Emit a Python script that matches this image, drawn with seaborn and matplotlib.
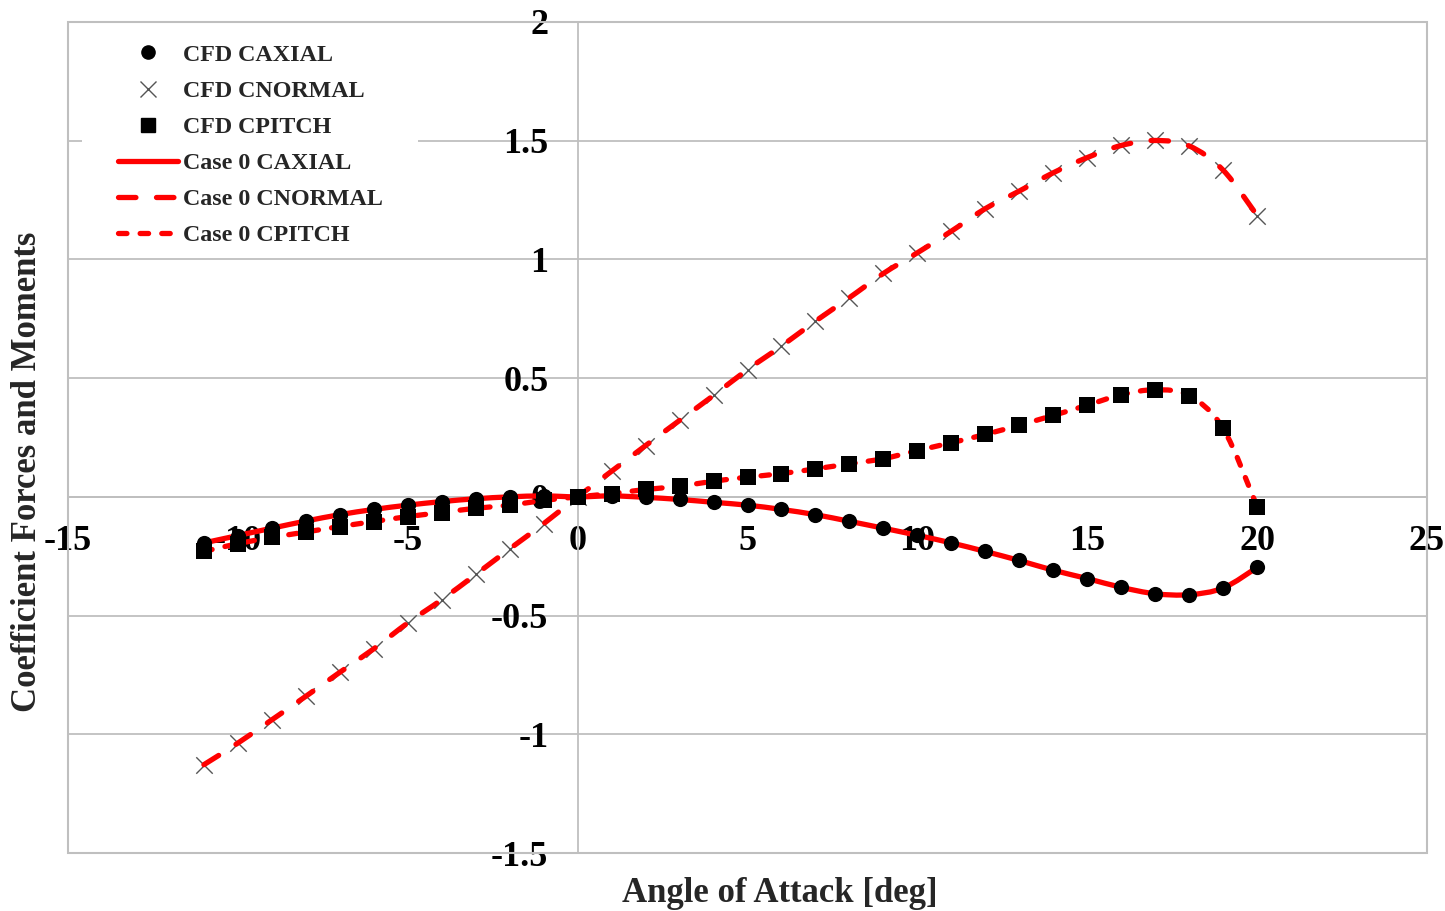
import numpy as np
import pandas as pd
import matplotlib
matplotlib.use("Agg")
import matplotlib.pyplot as plt
import seaborn as sns
from matplotlib.path import Path
from matplotlib.patches import PathPatch, Rectangle
from matplotlib.lines import Line2D

# Angle of attack [deg]
alpha = list(range(-11, 21))

# CFD coefficients
cfd_caxial = [-0.194, -0.163, -0.132, -0.102, -0.075, -0.053, -0.035, -0.020, -0.008, 0.000,
              0.004, 0.000, 0.004, -0.002, -0.011, -0.023, -0.035, -0.053, -0.075, -0.103,
              -0.132, -0.162, -0.194, -0.230, -0.268, -0.309, -0.344, -0.381, -0.408, -0.412,
              -0.384, -0.297]
cfd_cnormal = [-1.128, -1.037, -0.939, -0.840, -0.739, -0.640, -0.531, -0.433, -0.327, -0.219,
               -0.113, 0.000, 0.108, 0.216, 0.322, 0.427, 0.536, 0.635, 0.740, 0.839,
               0.941, 1.028, 1.119, 1.214, 1.288, 1.365, 1.429, 1.480, 1.501, 1.478,
               1.376, 1.185]
cfd_cpitch = [-0.230, -0.197, -0.171, -0.148, -0.125, -0.104, -0.083, -0.066, -0.048, -0.035,
              -0.015, 0.000, 0.014, 0.031, 0.045, 0.066, 0.083, 0.098, 0.118, 0.139,
              0.161, 0.195, 0.228, 0.263, 0.302, 0.343, 0.386, 0.430, 0.451, 0.426,
              0.288, -0.041]

# Case 0 model coefficients
case0_caxial = list(cfd_caxial)
case0_cnormal = list(cfd_cnormal)
case0_cpitch = list(cfd_cpitch)

x_ticks = [-15, -10, -5, 0, 5, 10, 15, 20, 25]
y_ticks = [-1.5, -1, -0.5, 0, 0.5, 1, 1.5, 2]

sns.set_theme(style="white")
plt.rcParams["font.family"] = ["Liberation Serif", "DejaVu Serif"]
plt.rcParams["font.weight"] = "bold"

W, H = 1445, 911
fig = plt.figure(figsize=(W / 100, H / 100), dpi=100)
fig.patch.set_facecolor("white")
ax = fig.add_axes([68 / W, 1 - 853 / H, (1427 - 68) / W, (853 - 22) / H])

grid_col = "#bfbfbf"
red = "#ff0000"


def smooth_path(xs, ys):
    """Cubic Bezier path through the points (Catmull-Rom style control points)."""
    pts = np.column_stack([xs, ys]).astype(float)
    n = len(pts)
    verts = [pts[0]]
    codes = [Path.MOVETO]
    for i in range(n - 1):
        p0 = pts[i - 1] if i > 0 else pts[i]
        p1 = pts[i]
        p2 = pts[i + 1]
        p3 = pts[i + 2] if i + 2 < n else pts[i + 1]
        verts += [p1 + (p2 - p0) / 6.0, p2 - (p3 - p1) / 6.0, p2]
        codes += [Path.CURVE4] * 3
    return Path(verts, codes)


# CFD normal force markers (below the model curves)
sns.scatterplot(x=alpha, y=cfd_cnormal, marker="x", s=140, color="#555555",
                linewidth=1.0, ax=ax, zorder=3, legend=False)

# Case 0 smooth curves
lw = 3.8
styles = [
    (case0_caxial, "-"),
    (case0_cnormal, (0, (3.3, 3.9))),
    (case0_cpitch, (0, (1.6, 2.5))),
]
for vals, ls in styles:
    patch = PathPatch(smooth_path(alpha, vals), facecolor="none", edgecolor=red,
                      lw=lw, linestyle=ls, zorder=4, transform=ax.transData)
    patch.set_capstyle("round")
    patch.set_joinstyle("round")
    ax.add_patch(patch)

# CFD axial force and pitch moment markers
sns.scatterplot(x=alpha, y=cfd_caxial, marker="o", s=120, color="black",
                edgecolor="black", linewidth=0, ax=ax, zorder=5, legend=False)
sns.scatterplot(x=alpha, y=cfd_cpitch, marker="s", s=140, color="black",
                edgecolor="black", linewidth=0, ax=ax, zorder=5, legend=False)

ax.set_xlim(-15, 25)
ax.set_ylim(-1.5, 2)
ax.set_xticks(x_ticks)
ax.set_yticks(y_ticks)
ax.set_xticklabels([f"{v:g}" for v in x_ticks])
ax.set_yticklabels([f"{v:g}" for v in y_ticks])

ax.grid(axis="y", color=grid_col, lw=1.3)
ax.grid(axis="x", visible=False)
ax.set_axisbelow(True)

for side in ["top", "right"]:
    ax.spines[side].set_visible(False)
ax.spines["left"].set_position(("data", 0))
ax.spines["bottom"].set_position(("data", 0))
ax.spines["left"].set_color(grid_col)
ax.spines["bottom"].set_color(grid_col)
ax.spines["left"].set_linewidth(1.3)
ax.spines["bottom"].set_linewidth(1.3)

ax.tick_params(axis="x", length=0, pad=20.5, labelsize=26)
ax.tick_params(axis="y", length=0, pad=21, labelsize=26)
for lab in ax.get_xticklabels() + ax.get_yticklabels():
    lab.set_fontweight("bold")
    lab.set_color("black")

# Plot-area frame
ax.add_patch(Rectangle((0, 0), 1, 1, transform=ax.transAxes, fill=False,
                       edgecolor=grid_col, lw=1.5, zorder=10, clip_on=False))

# White backing behind the legend entries
ax.add_patch(Rectangle((82 / W, 1 - 250 / H), (418 - 82) / W, (250 - 23) / H,
                       transform=fig.transFigure, facecolor="white",
                       edgecolor="none", zorder=2))

# Legend
handles = [
    Line2D([], [], ls="none", marker="o", ms=9.5, color="black"),
    Line2D([], [], ls="none", marker="x", ms=11, mew=1.0, color="#555555"),
    Line2D([], [], ls="none", marker="s", ms=9.5, color="black"),
    Line2D([], [], color=red, lw=lw, ls="-", solid_capstyle="round"),
    Line2D([], [], color=red, lw=lw, ls=(0, (3.3, 3.9)), dash_capstyle="round"),
    Line2D([], [], color=red, lw=lw, ls=(0, (1.6, 2.5)), dash_capstyle="round"),
]
labels = ["CFD CAXIAL", "CFD CNORMAL", "CFD CPITCH",
          "Case 0 CAXIAL", "Case 0 CNORMAL", "Case 0 CPITCH"]
leg = fig.legend(handles, labels, loc="upper left",
                 bbox_to_anchor=(118 / W, 1 - 44 / H), borderaxespad=0,
                 prop={"family": "Liberation Serif", "weight": "bold", "size": 17.3},
                 frameon=False, borderpad=0, handlelength=2.5, handletextpad=0.22,
                 labelspacing=0.595)
leg.set_zorder(5)

fig.text(780 / W, 1 - 893 / H, "Angle of Attack [deg]", ha="center", va="center",
         fontsize=25, fontweight="bold", family="Liberation Serif")
fig.text(28 / W, 1 - 472 / H, "Coefficient Forces and Moments", ha="center",
         va="center", rotation=90, fontsize=25, fontweight="bold",
         family="Liberation Serif")

fig.savefig("out.png", dpi=100, facecolor="white")
